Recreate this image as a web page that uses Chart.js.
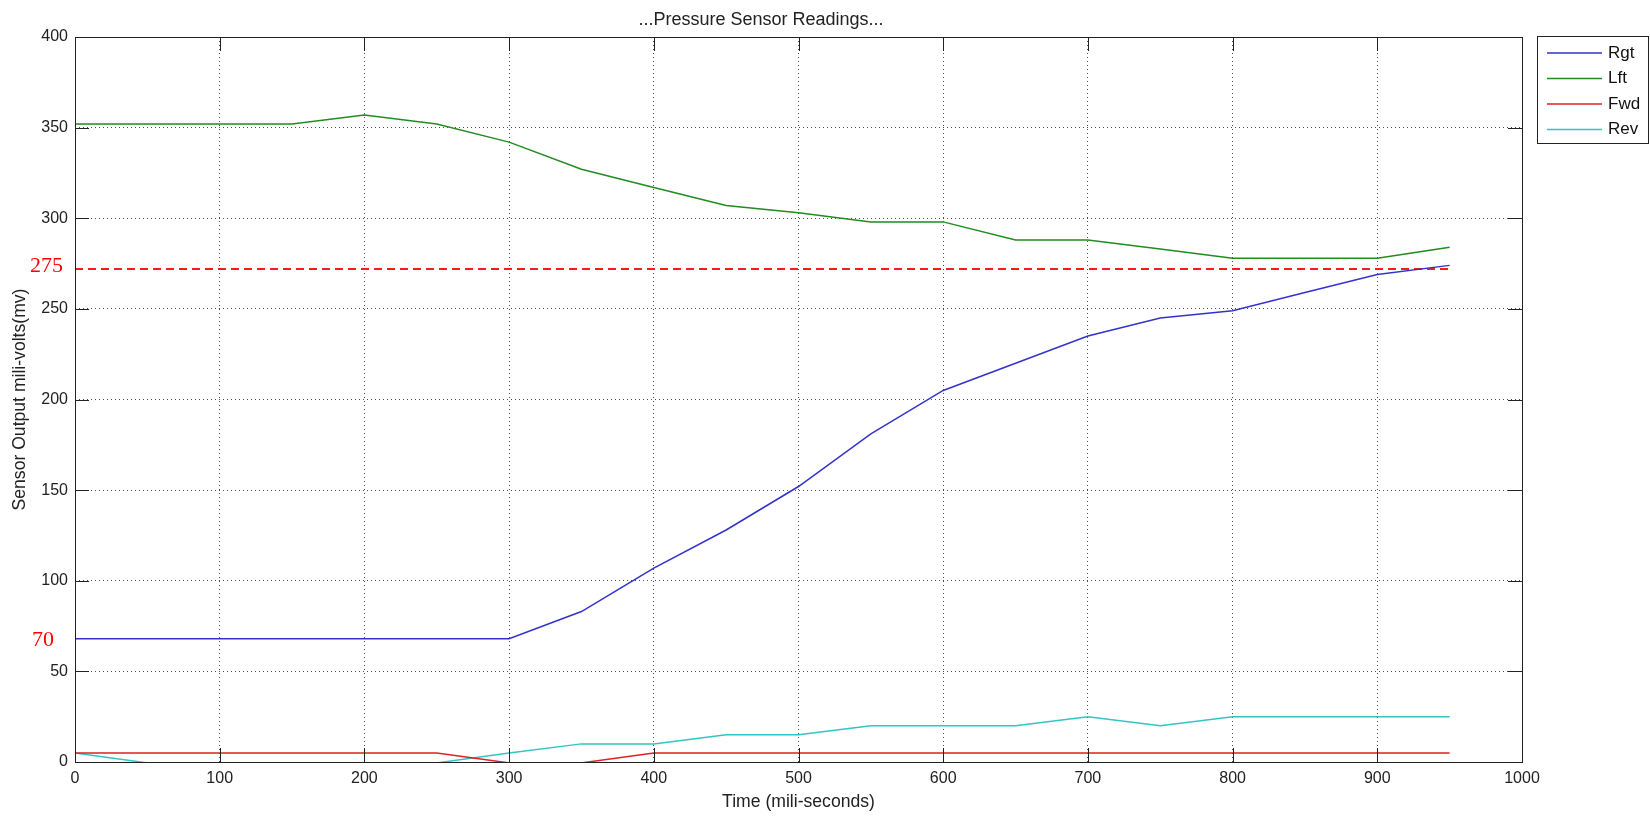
<!DOCTYPE html>
<html>
<head>
<meta charset="utf-8">
<title>Pressure Sensor Readings</title>
<script src="https://cdn.jsdelivr.net/npm/chart.js@4"></script>
<style>
  html, body { margin: 0; padding: 0; background: #fff; }
  #wrap { width: 1650px; height: 816px; }
</style>
</head>
<body>
<div id="wrap"><canvas id="chart" width="1650" height="816"></canvas></div>
<script>
// time axis (mili-seconds)
const times = [0, 50, 100, 150, 200, 250, 300, 350, 400, 450, 500, 550, 600, 650, 700, 750, 800, 850, 900, 950];

// sensor readings (mv)
const rgt = [68, 68, 68, 68, 68, 68, 68, 83, 107, 128, 152, 181, 205, 220, 235, 245, 249, 259, 269, 274];
const lft = [352, 352, 352, 352, 357, 352, 342, 327, 317, 307, 303, 298, 298, 288, 288, 283, 278, 278, 278, 284];
const fwd = [5, 5, 5, 5, 5, 5, -0.5, -0.5, 5, 5, 5, 5, 5, 5, 5, 5, 5, 5, 5, 5];
const rev = [5, -0.5, -1, -1, -1, -0.5, 5, 10, 10, 15, 15, 20, 20, 20, 25, 20, 25, 25, 25, 25];

// red dashed threshold line
const thresholdTimes = [0, 950];
const thresholdValue = 272;

// hand-written red marks on the left
const markLabels = ['275', '70'];
const markValues = [275, 70];

const seriesNames = ['Rgt', 'Lft', 'Fwd', 'Rev'];
const seriesColors = ['#3333cc', '#228b22', '#dd2222', '#33c4c4'];

const FONT = '"Liberation Sans", Arial, sans-serif';

function toPoints(ys) {
  return times.map((t, i) => ({ x: t, y: ys[i] }));
}

// matlab style box, inward ticks, legend and red notes
const matlabBox = {
  id: 'matlabBox',
  afterDatasetsDraw(chart) {
    const { ctx, chartArea: a, scales } = chart;
    const len = 14;
    ctx.save();
    ctx.strokeStyle = '#222';
    ctx.lineWidth = 1;
    ctx.setLineDash([]);
    ctx.beginPath();
    scales.x.ticks.forEach(t => {
      const px = Math.round(scales.x.getPixelForValue(t.value)) + 0.5;
      ctx.moveTo(px, a.bottom); ctx.lineTo(px, a.bottom - len);
      ctx.moveTo(px, a.top); ctx.lineTo(px, a.top + len);
    });
    scales.y.ticks.forEach(t => {
      const py = Math.round(scales.y.getPixelForValue(t.value)) + 0.5;
      ctx.moveTo(a.left, py); ctx.lineTo(a.left + len, py);
      ctx.moveTo(a.right, py); ctx.lineTo(a.right - len, py);
    });
    ctx.stroke();
    ctx.strokeRect(Math.round(a.left) + 0.5, Math.round(a.top) + 0.5,
      Math.round(a.right - a.left), Math.round(a.bottom - a.top));
    ctx.restore();
  },
  afterDraw(chart) {
    const { ctx, scales } = chart;
    ctx.save();
    // legend
    const lx = 1537, ly = 36, lw = 111, lh = 107;
    ctx.fillStyle = '#fff';
    ctx.fillRect(lx, ly, lw, lh);
    ctx.strokeStyle = '#222';
    ctx.lineWidth = 1;
    ctx.strokeRect(lx + 0.5, ly + 0.5, lw, lh);
    ctx.font = '17px ' + FONT;
    ctx.textBaseline = 'middle';
    ctx.textAlign = 'left';
    seriesNames.forEach((name, i) => {
      const y = 53 + i * 25.5;
      ctx.strokeStyle = seriesColors[i];
      ctx.lineWidth = 1.5;
      ctx.beginPath();
      ctx.moveTo(1547, y); ctx.lineTo(1602, y);
      ctx.stroke();
      ctx.fillStyle = '#111';
      ctx.fillText(name, 1608, y);
    });
    // red notes
    ctx.fillStyle = '#ff0000';
    ctx.font = '22px "Liberation Serif", "Times New Roman", serif';
    markLabels.forEach((txt, i) => {
      const y = scales.y.getPixelForValue(markValues[i]);
      ctx.fillText(txt, i === 0 ? 30 : 32, i === 0 ? y + 3 : y + 5);
    });
    ctx.restore();
  }
};

const ctx = document.getElementById('chart');
const chart = new Chart(ctx, {
  type: 'line',
  data: {
    datasets: [
      ...[rgt, lft, fwd, rev].map((ys, i) => ({
        label: seriesNames[i],
        data: toPoints(ys),
        borderColor: seriesColors[i],
        borderWidth: 1.5,
        pointRadius: 0,
        tension: 0,
        clip: 0
      })),
      {
        label: 'threshold',
        data: thresholdTimes.map(t => ({ x: t, y: thresholdValue })),
        borderColor: '#ff1a1a',
        borderWidth: 2,
        borderDash: [8, 5],
        pointRadius: 0,
        clip: 0
      }
    ]
  },
  options: {
    responsive: false,
    animation: false,
    layout: { padding: { left: 0, right: 128, top: 0, bottom: 0 } },
    plugins: {
      legend: { display: false },
      tooltip: { enabled: false },
      title: {
        display: true,
        text: '...Pressure Sensor Readings...',
        color: '#222',
        font: { family: FONT, size: 18, weight: 'normal' },
        padding: { top: 9, bottom: 6.4 }
      }
    },
    scales: {
      x: {
        type: 'linear',
        min: 0,
        max: 1000,
        ticks: {
          stepSize: 100, color: '#222', padding: 7, font: { family: FONT, size: 16 },
          callback: v => String(v)
        },
        grid: { color: 'rgba(0,0,0,0.7)', drawTicks: false },
        border: { display: false, dash: [1, 3] },
        title: {
          display: true,
          text: 'Time (mili-seconds)',
          color: '#222',
          font: { family: FONT, size: 17.6 },
          padding: { top: 0, bottom: 3.4 }
        },
        afterFit(scale) { scale.height = 54; }
      },
      y: {
        min: 0,
        max: 400,
        ticks: { stepSize: 50, color: '#222', padding: 7, font: { family: FONT, size: 16 } },
        grid: { color: 'rgba(0,0,0,0.7)', drawTicks: false },
        border: { display: false, dash: [1, 3] },
        title: {
          display: true,
          text: 'Sensor Output mili-volts(mv)',
          color: '#222',
          font: { family: FONT, size: 17.6 },
          padding: { top: 10, bottom: 0 }
        },
        afterFit(scale) { scale.width = 75; }
      }
    }
  },
  plugins: [matlabBox]
});
</script>
</body>
</html>
